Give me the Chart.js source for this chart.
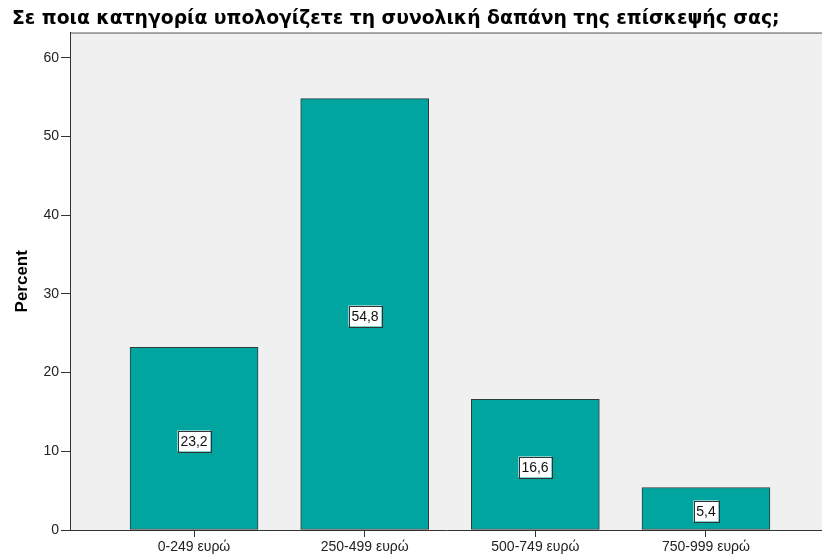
<!DOCTYPE html>
<html>
<head>
<meta charset="utf-8">
<script src="https://cdn.jsdelivr.net/npm/chart.js@4"></script>
<style>
  html, body { margin: 0; padding: 0; background: #ffffff; }
  #wrap { width: 822px; height: 554px; position: relative; }
</style>
</head>
<body>
<div id="wrap"><canvas id="chart"></canvas></div>
<script>
const titleText = "Σε ποια κατηγορία υπολογίζετε τη συνολική δαπάνη της επίσκεψής σας;";
const categories = ["0-249 ευρώ", "250-499 ευρώ", "500-749 ευρώ", "750-999 ευρώ"];
const percents = [23.2, 54.8, 16.6, 5.4];
const yTicks = [0, 10, 20, 30, 40, 50, 60];

const FONT = "'Liberation Sans', Arial, sans-serif";
const TITLE_FONT = "'DejaVu Sans', sans-serif";

const plotBg = {
  id: "plotBg",
  beforeDraw(chart) {
    const { ctx, chartArea: a } = chart;
    ctx.save();
    ctx.fillStyle = "#f0f0f0";
    ctx.fillRect(a.left, a.top, a.right - a.left, a.bottom - a.top);
    ctx.strokeStyle = "#555";
    ctx.lineWidth = 1;
    ctx.beginPath();
    ctx.moveTo(a.left, a.top + 0.5);
    ctx.lineTo(a.right, a.top + 0.5);
    ctx.stroke();
    ctx.restore();
  },
};

const valueBoxes = {
  id: "valueBoxes",
  afterDatasetsDraw(chart) {
    const { ctx } = chart;
    const meta = chart.getDatasetMeta(0);
    const yScale = chart.scales.y;
    ctx.save();
    ctx.font = "14px " + FONT;
    ctx.textAlign = "center";
    ctx.textBaseline = "middle";
    meta.data.forEach((bar, i) => {
      const text = percents[i].toFixed(1).replace(".", ",");
      const cy = Math.round(yScale.getPixelForValue(percents[i] / 2)) + 2;
      const cx = Math.round(bar.x);
      const w = Math.ceil(ctx.measureText(text).width) + 5;
      const h = 21;
      ctx.fillStyle = "#ffffff";
      ctx.fillRect(cx - w / 2, cy - h / 2, w, h);
      ctx.strokeStyle = "#333";
      ctx.lineWidth = 1;
      ctx.strokeRect(Math.round(cx - w / 2) + 0.5, Math.round(cy - h / 2) + 0.5, w, h);
      ctx.fillStyle = "#111";
      ctx.fillText(text, cx, cy + 1);
    });
    ctx.restore();
  },
};

new Chart(document.getElementById("chart"), {
  type: "bar",
  data: {
    datasets: [
      {
        data: percents.map((v, i) => ({ x: i, y: v })),
        backgroundColor: "#00a5a0",
        borderColor: "#2e3d3c",
        borderWidth: 1,
        borderSkipped: false,
        barThickness: 128,
      },
    ],
  },
  options: {
    responsive: true,
    maintainAspectRatio: false,
    animation: false,
    layout: { padding: { top: 0, right: 0, bottom: 0, left: 12 } },
    plugins: {
      legend: { display: false },
      tooltip: { enabled: false },
      title: {
        display: true,
        text: titleText,
        align: "start",
        color: "#000",
        font: { family: TITLE_FONT, size: 18.8, weight: "bold" },
        padding: { top: 8, bottom: 2 },
      },
    },
    scales: {
      x: {
        type: "linear",
        offset: false,
        min: -0.727,
        max: 3.68,
        afterBuildTicks(scale) {
          scale.ticks = categories.map((_, i) => ({ value: i }));
        },
        afterFit(scale) {
          scale.height = 24;
        },
        grid: { offset: false, drawOnChartArea: false, drawTicks: true, tickLength: 7, color: "#333" },
        border: { display: true, color: "#333", width: 1 },
        ticks: {
          color: "#222",
          font: { family: FONT, size: 14 },
          padding: 2,
          maxRotation: 0,
          callback: (v) => categories[v],
        },
      },
      y: {
        min: 0,
        max: 63.2,
        afterBuildTicks(scale) {
          scale.ticks = yTicks.map((v) => ({ value: v }));
        },
        afterFit(scale) {
          scale.width = 58;
        },
        grid: { drawOnChartArea: false, drawTicks: true, tickLength: 9, color: "#333" },
        border: { display: true, color: "#333", width: 1 },
        ticks: {
          color: "#222",
          font: { family: FONT, size: 14 },
          padding: 2,
        },
        title: {
          display: true,
          text: "Percent",
          color: "#000",
          font: { family: FONT, size: 17, weight: "bold" },
          padding: { top: 0, bottom: 0 },
        },
      },
    },
  },
  plugins: [plotBg, valueBoxes],
});
</script>
</body>
</html>
